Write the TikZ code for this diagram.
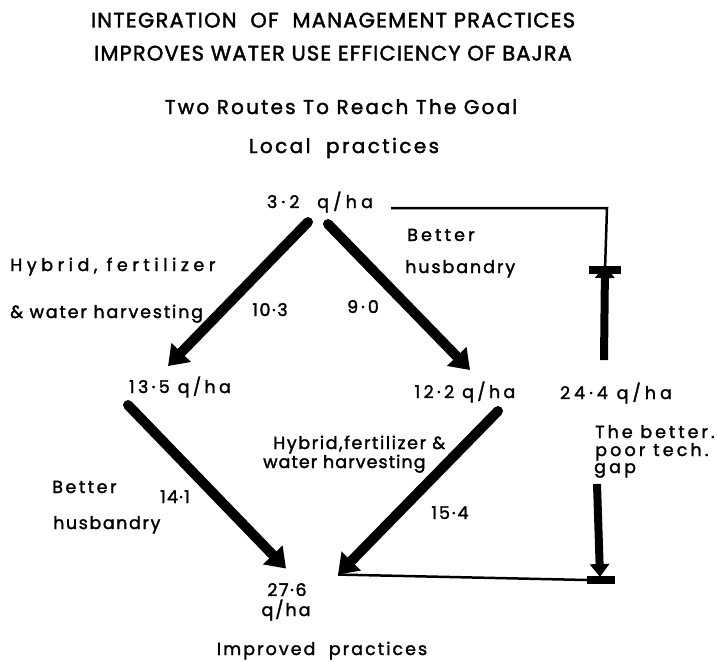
\documentclass[tikz,border=0pt]{standalone}
\usepackage{fontspec}
\setmainfont{Poppins}[FakeBold=1.8]
\usetikzlibrary{arrows.meta,calc}
\newcommand{\lsfont}[2]{\fontsize{#1}{#1}\selectfont\addfontfeature{LetterSpace=#2}}
\begin{document}
\begin{tikzpicture}[x=1pt,y=-1pt,
  lbl/.style={inner sep=0pt, anchor=base, font=\lsfont{17.5}{#1}},
  lbl/.default=12,
  lblw/.style={lbl=#1, anchor=base west},
  lblw/.default=12,
  hdr/.style={inner sep=0pt, anchor=base, font=\lsfont{21}{#1}},
  sub/.style={inner sep=0pt, anchor=base, font=\lsfont{20}{#1}},
  bigarrow/.style={line width=10pt, line cap=round, -{Triangle[length=19pt,width=26pt]}},
  gaparrow/.style={line width=8pt, -{Triangle[length=13pt,width=19pt]}},
  thin/.style={line width=2.5pt},
  bar/.style={line width=8pt}]
\fill[white] (0,0) rectangle (717,661);
\useasboundingbox (0,0) rectangle (717,661);
% titles
\node[hdr=6] (t1) at (333,27.5) {INTEGRATION \ OF \ MANAGEMENT PRACTICES};
\node[hdr=5.4] (t2) at (333,60.5) {IMPROVES WATER USE EFFICIENCY OF BAJRA};
\node[sub=11] (t3) at (341,114) {Two Routes To Reach The Goal};
\node[sub=12] (t4) at (344,153) {Local \ practices};
% values
\node[lbl=24] (n32) at (320,208) {3·2 \ q/ha};
\node[lbl=19] (n135) at (180,393) {13·5 q/ha};
\node[lbl=19] (n122) at (465,398) {12·2 q/ha};
\node[lbl=23] (n244) at (616,399) {24·4 q/ha};
\node[lbl=9] (n276) at (287,596) {27·6};
\node[lbl=11] (n276b) at (286,616) {q/ha};
% route labels
\node[lblw=26] (l1a) at (10,271) {Hybrid, fertilizer};
\node[lblw=10.5] (l1b) at (10,318) {\& water harvesting};
\node[lblw=18] (l2a) at (407,241) {Better};
\node[lblw=11] (l2b) at (405,273) {husbandry};
\node[lblw=9] (l3a) at (273,449) {Hybrid,fertilizer \&};
\node[lblw=6] (l3b) at (263,468) {water harvesting};
\node[lblw=14.5] (l4a) at (52,493) {Better};
\node[lblw=9] (l4b) at (53,529) {husbandry};
\node[lbl=9] (v103) at (270,316) {10·3};
\node[lbl=17] (v90) at (363,313) {9·0};
\node[lbl=7] (v141) at (175,503) {14·1};
\node[lbl=11] (v154) at (450,519) {15·4};
% gap labels
\node[lblw=17] (g1) at (595,438) {The better.};
\node[lblw=18] (g2) at (595,456) {poor tech.};
\node[lblw=18] (g3) at (594,473) {gap};
\node[lbl=11.6] (imp) at (322,655) {Improved \ practices};
% arrows of the two routes
\draw[bigarrow] ([shift={(-12,20)}]n32.center) -- ([shift={(-12,-21)}]n135.center);
\draw[bigarrow] ([shift={(8,22)}]n32.center) -- ([shift={(5,-22)}]n122.center);
\draw[bigarrow] ([shift={(-52,18)}]n135.center) -- ([shift={(-1,-21)}]n276.center);
\draw[bigarrow] ([shift={(33,19)}]n122.center) -- ([shift={(51,-15)}]n276.center);
% gap structure
\coordinate (topc) at (607,208);
\coordinate (gtop) at (605,270);
\coordinate (gbot) at (600,580);
\coordinate (a4tip) at ([shift={(51,-15)}]n276.center);
\draw[thin] ([xshift=18pt]n32.east |- topc) -- (topc) -- (gtop);
\draw[bar] ([xshift=-16pt]gtop) -- ([xshift=16pt]gtop);
\draw[gaparrow] ([shift={(-12,-33)}]n244.center) -- ([yshift=5pt]gtop);
\draw[gaparrow] ([shift={(3,6)}]g3.south west) -- ([yshift=3pt]gbot);
\draw[bar] ([xshift=-13pt]gbot) -- ([xshift=15pt]gbot);
\draw[thin] (a4tip) -- ([xshift=-13pt]gbot);
\end{tikzpicture}
\end{document}
